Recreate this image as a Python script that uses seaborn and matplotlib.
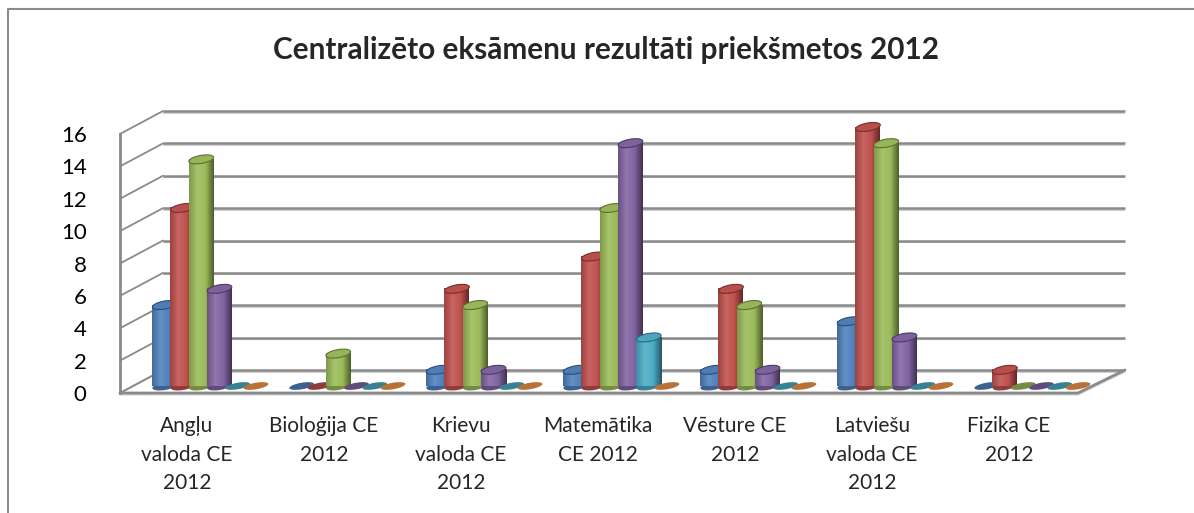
import numpy as np
import pandas as pd
import matplotlib
matplotlib.use('Agg')
import matplotlib.pyplot as plt
import matplotlib.transforms as mtransforms
from matplotlib.patches import Ellipse
from matplotlib.colors import to_rgb, LinearSegmentedColormap
import seaborn as sns

# data (grades A..F per exam)
subjects = ['Angļu\nvaloda CE\n2012', 'Bioloģija CE\n2012', 'Krievu\nvaloda CE\n2012',
            'Matemātika\nCE 2012', 'Vēsture CE\n2012', 'Latviešu\nvaloda CE\n2012',
            'Fizika CE\n2012']
grades = ['A', 'B', 'C', 'D', 'E', 'F']
grade_a = [5, 0, 1, 1, 1, 4, 0]
grade_b = [11, 0, 6, 8, 6, 16, 1]
grade_c = [14, 2, 5, 11, 5, 15, 0]
grade_d = [6, 0, 1, 15, 1, 3, 0]
grade_e = [0, 0, 0, 3, 0, 0, 0]
grade_f = [0, 0, 0, 0, 0, 0, 0]
colors = ['#4F81BD', '#C0504D', '#9BBB59', '#8064A2', '#4BACC6', '#F79646']

title = 'Centralizēto eksāmenu rezultāti priekšmetos 2012'

rows = []
for g, vals in zip(grades, [grade_a, grade_b, grade_c, grade_d, grade_e, grade_f]):
    for s, v in zip(subjects, vals):
        rows.append({'subject': s, 'grade': g, 'value': v})
df = pd.DataFrame(rows)

sns.set_style('white')
plt.rcParams['font.family'] = ['Lato', 'DejaVu Sans']

W, H = 1194, 513
fig = plt.figure(figsize=(W / 100, H / 100), dpi=100)

# 3d box geometry in pixels
front_x, back_x, back_right = 120, 163, 1125
front_y0, back_y0 = 393, 370
floor_right = 1078
ppu = (back_y0 - 111) / 16.0
grid_col = '#8a8a8a'

# pixel canvas for the walls
canvas = fig.add_axes([0, 0, 1, 1], zorder=0)
canvas.set_xlim(0, W)
canvas.set_ylim(H, 0)
canvas.axis('off')
canvas.plot([8, 8, W], [H, 9, 9], color='#8c8c8c', lw=1.5)

# front axis with the value ticks
axy = fig.add_axes([front_x / W, (H - front_y0) / H, 0.001, 16 * ppu / H], zorder=1)
axy.set_ylim(0, 16)
axy.set_yticks(np.arange(0, 17, 2))
axy.set_xticks([])
for sp in ['top', 'right', 'bottom']:
    axy.spines[sp].set_visible(False)
axy.spines['left'].set_color(grid_col)
axy.spines['left'].set_linewidth(2)
axy.tick_params(axis='y', length=0, pad=24, labelsize=16, labelcolor='black')
axy.patch.set_alpha(0)

for v in axy.get_yticks():
    yb = back_y0 - v * ppu
    yf = front_y0 - v * ppu
    canvas.plot([back_x, back_right], [yb + 1.5, yb + 1.5], color='#d0d0d0', lw=1.5, solid_capstyle='butt')
    canvas.plot([back_x, back_right], [yb, yb], color=grid_col, lw=1.8, solid_capstyle='butt')
    if v > 0:
        canvas.plot([front_x, back_x], [yf, yb], color=grid_col, lw=1.3)
# floor
canvas.plot([front_x, back_x], [front_y0, back_y0], color=grid_col, lw=1.5)
canvas.plot([front_x, floor_right, back_right], [front_y0 + 1.5, front_y0 + 1.5, back_y0 + 1.5],
            color='#d0d0d0', lw=1.5)
canvas.plot([front_x, floor_right, back_right], [front_y0, front_y0, back_y0], color=grid_col, lw=2)

# bars plane
bar_y0 = 386
step = 137
left = 207 - step / 2
axb = fig.add_axes([left / W, (H - bar_y0) / H, step * 7 / W, 16 * ppu / H], zorder=2)
sns.barplot(data=df, x='subject', y='value', hue='grade', palette=colors, width=0.8,
            gap=0, saturation=1, legend=False, ax=axb, errorbar=None)
axb.set_xlim(-0.5, 6.5)
axb.set_ylim(0, 16)
axb.patch.set_alpha(0)
axb.set_yticks([])
axb.set_xlabel('')
axb.set_ylabel('')
sns.despine(ax=axb, left=True, bottom=True)
axb.tick_params(axis='x', length=0, pad=21.5, labelsize=15)
shift = mtransforms.ScaledTranslation(-20 / 100, 0, fig.dpi_scale_trans)
for lab in axb.get_xticklabels():
    lab.set_transform(lab.get_transform() + shift)
    lab.set_linespacing(1.55)

def shade(c, f):
    c = np.array(to_rgb(c))
    if f >= 1:
        return tuple(np.clip(c + (1 - c) * (f - 1), 0, 1))
    return tuple(c * f)

widen = 25.0 / (0.8 / 6 * step)   # cylinders are wider than their slot and overlap
bar_px = 25
cap_px = 8
grad = np.linspace(0, 1, 64).reshape(1, -1)
for i, p in enumerate(list(axb.patches)):
    base = p.get_facecolor()
    x, w, h = p.get_x(), p.get_width() * widen, p.get_height()
    cx = x + w / 2
    z = 3 + i * 0.01
    if h > 0:
        cmap = LinearSegmentedColormap.from_list(
            'cyl', [shade(base, 0.82), shade(base, 1.12), shade(base, 1.0), shade(base, 0.5)])
        bottom = Ellipse((0, 0), bar_px, cap_px, angle=10, fc=shade(base, 0.75), ec='none',
                         transform=mtransforms.ScaledTranslation(cx, 0, axb.transData),
                         zorder=z, clip_on=False)
        axb.add_patch(bottom)
        axb.imshow(grad, extent=[x, x + w, 0, h], aspect='auto', cmap=cmap, zorder=z + 0.001)
        cap = Ellipse((0, 0), bar_px, cap_px, angle=10, fc=shade(base, 0.97), ec=shade(base, 0.6),
                      lw=0.8, transform=mtransforms.ScaledTranslation(cx, h, axb.transData),
                      zorder=z + 0.002, clip_on=False)
        axb.add_patch(cap)
    else:
        disc = Ellipse((0, 0), bar_px, 6.5, angle=10, fc=shade(base, 0.75), ec='none',
                       transform=mtransforms.ScaledTranslation(cx, 0, axb.transData),
                       zorder=z, clip_on=False)
        axb.add_patch(disc)
    p.set_visible(False)
axb.set_xlim(-0.5, 6.5)
axb.set_ylim(0, 16)

fig.text(606 / W, 1 - 50 / H, title, ha='center', va='center', fontsize=21.4, fontweight='bold')

fig.savefig('out.png', dpi=100)
